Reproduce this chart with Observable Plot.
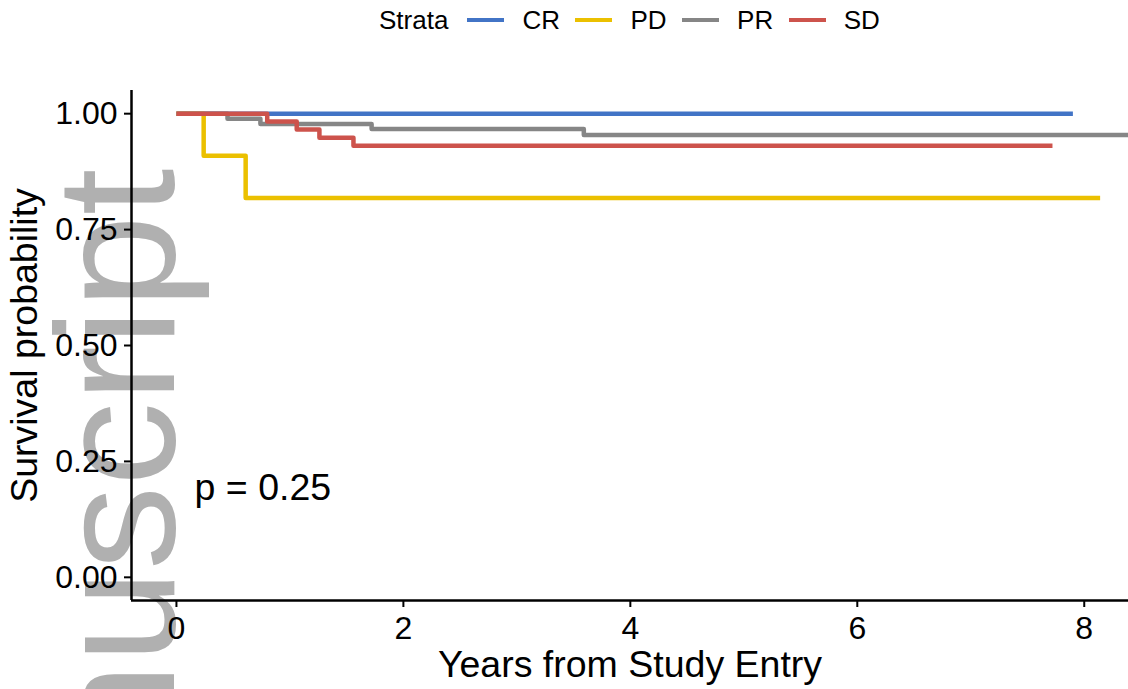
<!DOCTYPE html>
<html><head><meta charset="utf-8">
<script src="https://cdn.jsdelivr.net/npm/d3@7"></script>
<script src="https://cdn.jsdelivr.net/npm/@observablehq/plot@0.6"></script>
<style>
body{margin:0;background:#fff;font-family:"Liberation Sans",Arial,Helvetica,sans-serif;}
#wrap{position:relative;width:1128px;height:689px;overflow:hidden;background:#fff;}
#legend{position:absolute;left:379px;top:0;height:40px;display:flex;align-items:center;font-size:26px;color:#000;white-space:nowrap;}
#legend .key{display:inline-block;width:37px;height:4px;margin-right:18px;}
#legend .lab{margin-right:15.5px;}
#chart{position:absolute;left:0;top:40px;}
</style></head><body>
<div id="wrap"><div id="legend"></div><div id="chart"></div></div>
<script>
// ---- data ----
const legendTitle = "Strata";
const strata = ["CR", "PD", "PR", "SD"];
const colors = ["#4274C6", "#EBC000", "#868686", "#CD534C"];

const crTime = [0, 7.90];
const crSurv = [1, 1];
const pdTime = [0, 0.24, 0.61, 8.14];
const pdSurv = [1, 0.909, 0.818, 0.818];
const prTime = [0, 0.45, 0.74, 1.72, 3.59, 8.45];
const prSurv = [1, 0.989, 0.978, 0.967, 0.954, 0.954];
const sdTime = [0, 0.80, 1.06, 1.26, 1.56, 7.72];
const sdSurv = [1, 0.983, 0.966, 0.948, 0.931, 0.931];

const xTicks = [0, 2, 4, 6, 8];
const yTicks = [0, 0.25, 0.5, 0.75, 1];
const xDomain = [-0.396, 8.39];
const yDomain = [-0.05, 1.05];
const xLabel = "Years from Study Entry";
const yLabel = "Survival probability";
const pvalText = "p = 0.25";
const pvalX = 0.16, pvalY = 0.192;
const watermark = "Author Manuscript";

// ---- build table ----
const series = [[crTime, crSurv], [pdTime, pdSurv], [prTime, prSurv], [sdTime, sdSurv]];
const rows = [];
series.forEach(([t, s], i) => t.forEach((tt, j) => rows.push({strata: strata[i], time: tt, surv: s[j]})));

// ---- legend ----
const leg = document.getElementById("legend");
const title = document.createElement("span");
title.textContent = legendTitle;
title.style.marginRight = "19px";
leg.appendChild(title);
strata.forEach((s, i) => {
  const k = document.createElement("span");
  k.className = "key"; k.style.background = colors[i];
  leg.appendChild(k);
  const l = document.createElement("span");
  l.className = "lab"; l.textContent = s;
  leg.appendChild(l);
});

const font = "Liberation Sans, Arial, Helvetica, sans-serif";

const chart = Plot.plot({
  width: 1128,
  height: 649,
  marginTop: 50,
  marginBottom: 89,
  marginLeft: 131,
  marginRight: 0,
  style: {fontFamily: font, background: "transparent", color: "#000", overflow: "visible"},
  x: {domain: xDomain},
  y: {domain: yDomain},
  color: {domain: strata, range: colors},
  marks: [
    Plot.text([watermark], {frameAnchor: "top-left", dx: 42, dy: 78, rotate: -90, textAnchor: "end",
      lineAnchor: "bottom", fontSize: 168, fill: "#b0b0b0", fontFamily: font}),
    Plot.axisY({ticks: yTicks, tickFormat: d3.format(".2f"), tickSize: 7, tickPadding: 7, fontSize: 32,
      strokeWidth: 2, label: yLabel, labelAnchor: "center", labelArrow: "none", labelOffset: 121}),
    Plot.axisX({ticks: xTicks, tickFormat: d3.format("d"), tickSize: 7, tickPadding: 9, fontSize: 32,
      strokeWidth: 2, label: xLabel, labelAnchor: "center", labelArrow: "none", labelOffset: 76}),
    Plot.ruleX([xDomain[0]], {stroke: "#000", strokeWidth: 2.5}),
    Plot.ruleY([yDomain[0]], {stroke: "#000", strokeWidth: 2.5}),
    Plot.line(rows, {x: "time", y: "surv", z: "strata", stroke: "strata", curve: "step-after",
      strokeWidth: 4.5, strokeLinejoin: "round", strokeLinecap: "butt", clip: true}),
    Plot.text([pvalText], {x: () => pvalX, y: () => pvalY, textAnchor: "start", lineAnchor: "middle",
      fontSize: 37.5, fill: "#000", fontFamily: font})
  ]
});
chart.querySelectorAll("[aria-label='y-axis label'] text, [aria-label='x-axis label'] text").forEach(t => t.setAttribute("font-size", "37.5"));
document.getElementById("chart").appendChild(chart);
</script>
</body></html>
